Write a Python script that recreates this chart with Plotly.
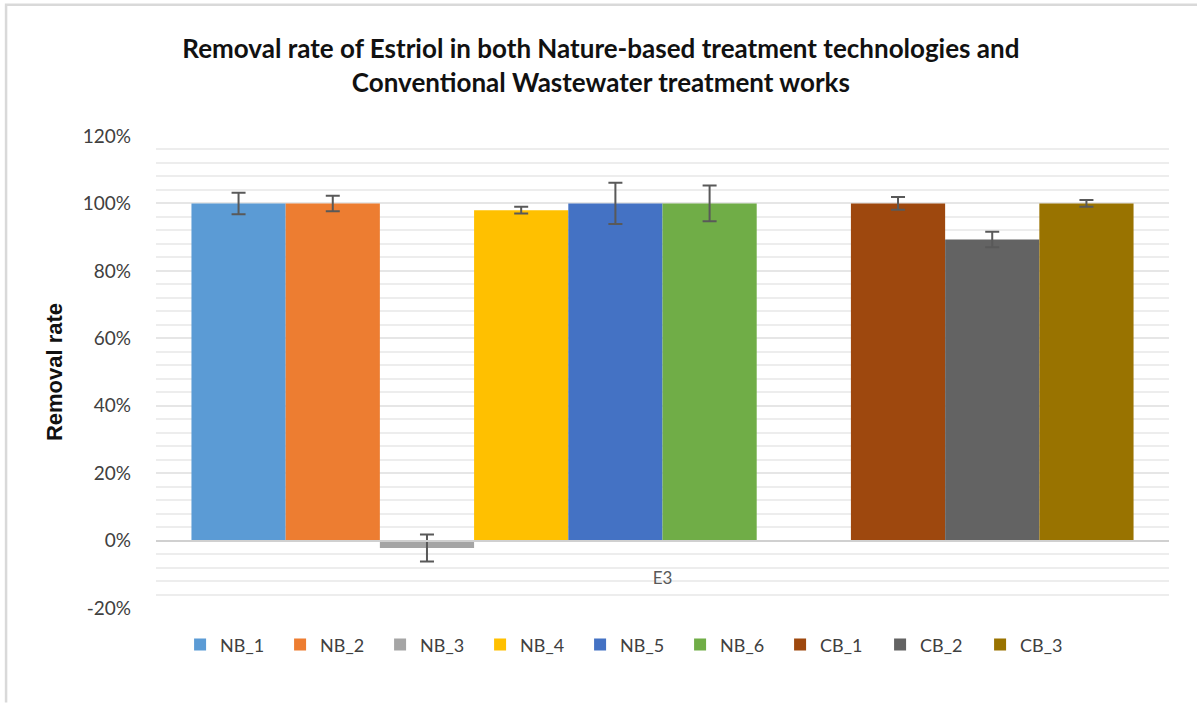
import plotly.graph_objects as go

categories = ["E3"]
series_names = ["NB_1", "NB_2", "NB_3", "NB_4", "NB_5", "NB_6", "CB_1", "CB_2", "CB_3"]
removal_rate = [1.00, 1.00, -0.022, 0.98, 1.00, 1.00, 1.00, 0.893, 1.00]
error_values = [0.032, 0.023, 0.040, 0.010, 0.061, 0.053, 0.019, 0.023, 0.010]
colors = ["#5B9BD5", "#ED7D31", "#A5A5A5", "#FFC000", "#4472C4", "#70AD47",
          "#9E480E", "#636363", "#997300"]
y_tick_vals = [-0.2, 0.0, 0.2, 0.4, 0.6, 0.8, 1.0, 1.2]
y_tick_text = ["-20%", "0%", "20%", "40%", "60%", "80%", "100%", "120%"]

FONT = "Lato"
fig = go.Figure()

for i, (name, val, err, col) in enumerate(zip(series_names, removal_rate, error_values, colors)):
    if name == "CB_1":
        # empty slot between the nature-based and conventional groups
        fig.add_trace(go.Bar(x=categories, y=[None], name="", showlegend=False,
                             hoverinfo="skip", marker_color="rgba(0,0,0,0)"))
    fig.add_trace(go.Bar(
        x=categories, y=[val], name=name,
        marker=dict(color=col, line=dict(width=0)),
        error_y=dict(type="data", array=[err], visible=True,
                     color="#595959", thickness=2, width=7),
    ))

fig.update_layout(
    width=1197, height=706,
    barmode="group", bargap=0.07, bargroupgap=0,
    paper_bgcolor="white", plot_bgcolor="white",
    margin=dict(l=156, r=28, t=136, b=98),
    font=dict(family=FONT, color="#404040"),
    title=dict(
        text="Removal rate of Estriol in both Nature-based treatment technologies and"
             "<br>Conventional Wastewater treatment works",
        font=dict(family=FONT, size=26, color="#111111", weight="bold"),
        x=0.502, xanchor="center", xref="container",
        y=1 - 58 / 706, yanchor="middle", yref="container",
    ),
    legend=dict(
        orientation="h", x=0.468, xanchor="center", y=-0.078, yanchor="middle",
        font=dict(family=FONT, size=18, color="#404040"),
        entrywidth=55, entrywidthmode="pixels", traceorder="normal",
        itemwidth=30,
    ),
    showlegend=True,
)

fig.update_yaxes(
    range=[-0.2, 1.2], tickvals=y_tick_vals, ticktext=y_tick_text,
    showgrid=True, gridcolor="#E6E6E6", gridwidth=1.5,
    minor=dict(dtick=0.04, tick0=0, showgrid=True, gridcolor="#EDEDED", gridwidth=1.5),
    zeroline=False, showline=False, ticks="",
    tickfont=dict(family=FONT, size=19, color="#404040"),
    ticklabelstandoff=24,
    title=dict(text="Removal rate",
               font=dict(family="Liberation Sans", size=22, color="#111111", weight="bold"),
               standoff=14),
)

fig.update_xaxes(
    anchor="free", position=0.2 / 1.4,
    showline=True, linecolor="#D0D0D0", linewidth=2,
    showgrid=False, zeroline=False, ticks="",
    tickfont=dict(family=FONT, size=17, color="#595959"),
    ticklabelstandoff=22,
)

# outer frame of the chart area (left and top edges)
fig.add_shape(type="path", xref="paper", yref="paper",
              path="M -0.148 -0.2 L -0.148 1.278 L 1.2 1.278",
              line=dict(color="#D9D9D9", width=2.5), layer="above")

fig.write_html("out.html", config={"displayModeBar": False},
               post_script="document.body.style.margin='0px';")
